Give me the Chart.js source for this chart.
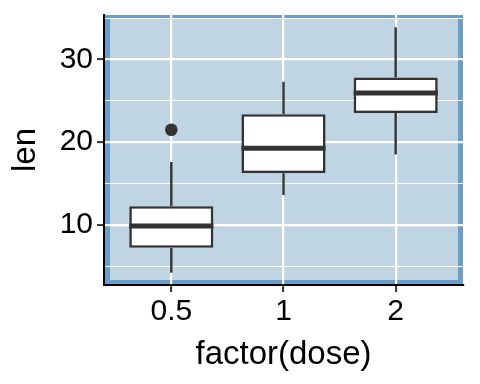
<!DOCTYPE html>
<html>
<head>
<meta charset="utf-8">
<script src="https://cdn.jsdelivr.net/npm/chart.js@4"></script>
<style>
  html, body { margin: 0; padding: 0; background: #fff; }
  #wrap { width: 480px; height: 384px; }
</style>
</head>
<body>
<div id="wrap"><canvas id="chart"></canvas></div>
<script>
// ToothGrowth: len por dosis
const doses = ['0.5', '1', '2'];
const lenMin = [4.2, 13.6, 18.5];
const lenQ1 = [7.225, 16.25, 23.525];
const lenMedian = [9.85, 19.25, 25.95];
const lenQ3 = [12.25, 23.375, 27.825];
const lenMax = [17.6, 27.3, 33.9];
const outlierDose = ['0.5'];
const outlierLen = [21.5];
const yTicks = [10, 20, 30];

const fontFam = '"Liberation Sans", Arial, sans-serif';
const boxColor = '#333333';

// fondo del panel
const panelBg = {
  id: 'panelBg',
  beforeDraw(chart) {
    const { ctx, chartArea: a } = chart;
    ctx.save();
    ctx.fillStyle = '#6C9DC6';
    ctx.fillRect(a.left, a.top, a.width, a.height);
    ctx.fillStyle = '#BFD5E3';
    ctx.fillRect(a.left + 6, a.top + 3, a.width - 11, a.height - 8);
    ctx.restore();
  }
};

// bigotes y medianas
const boxLines = {
  id: 'boxLines',
  beforeDatasetsDraw(chart) {
    const { ctx, scales: { x, y } } = chart;
    ctx.save();
    ctx.strokeStyle = boxColor;
    ctx.lineWidth = 2.4;
    doses.forEach((d, i) => {
      const px = x.getPixelForValue(i + 1);
      ctx.beginPath();
      ctx.moveTo(px, y.getPixelForValue(lenMin[i]));
      ctx.lineTo(px, y.getPixelForValue(lenQ1[i]));
      ctx.moveTo(px, y.getPixelForValue(lenQ3[i]));
      ctx.lineTo(px, y.getPixelForValue(lenMax[i]));
      ctx.stroke();
    });
    ctx.restore();
  },
  afterDatasetsDraw(chart) {
    const { ctx, scales: { y } } = chart;
    const bars = chart.getDatasetMeta(0).data;
    ctx.save();
    ctx.strokeStyle = boxColor;
    ctx.lineWidth = 5;
    bars.forEach((bar, i) => {
      const py = y.getPixelForValue(lenMedian[i]);
      ctx.beginPath();
      ctx.moveTo(bar.x - bar.width / 2, py);
      ctx.lineTo(bar.x + bar.width / 2, py);
      ctx.stroke();
    });
    ctx.restore();
  }
};

new Chart(document.getElementById('chart'), {
  type: 'bar',
  data: {
    datasets: [{
      type: 'bar',
      data: doses.map((d, i) => ({ x: i + 1, y: [lenQ1[i], lenQ3[i]] })),
      backgroundColor: '#ffffff',
      borderColor: boxColor,
      borderWidth: 2.6,
      borderSkipped: false,
      barPercentage: 0.75,
      categoryPercentage: 1,
      grouped: false
    }, {
      type: 'scatter',
      data: outlierDose.map((d, i) => ({ x: doses.indexOf(d) + 1, y: outlierLen[i] })),
      backgroundColor: boxColor,
      borderColor: boxColor,
      pointRadius: 6.3,
      pointBorderWidth: 0
    }]
  },
  options: {
    responsive: true,
    maintainAspectRatio: false,
    animation: false,
    layout: { padding: { top: 15, right: 17, left: 0, bottom: 0 } },
    plugins: { legend: { display: false }, tooltip: { enabled: false } },
    scales: {
      x: {
        type: 'linear',
        offset: false,
        min: 0.4,
        max: 3.6,
        afterFit(s) { s.height = 99; s.paddingLeft = 0; s.paddingRight = 0; },
        ticks: {
          stepSize: 1,
          includeBounds: false,
          autoSkip: false,
          maxRotation: 0,
          color: '#000',
          padding: 2,
          font: { family: fontFam, size: 30 },
          callback: v => doses[v - 1] || ''
        },
        grid: { offset: false, color: '#ffffff', lineWidth: 2.2, tickColor: boxColor, tickLength: 7, tickWidth: 2 },
        border: { color: '#000', width: 2 },
        title: { display: true, text: 'factor(dose)', color: '#000', font: { family: fontFam, size: 33 }, padding: { top: 0, bottom: 9 } }
      },
      y: {
        type: 'linear',
        min: 2.715,
        max: 35.385,
        afterFit(s) { s.width = 104; s.paddingTop = 0; s.paddingBottom = 0; },
        ticks: {
          stepSize: 5,
          includeBounds: false,
          autoSkip: false,
          color: '#000',
          padding: 4,
          font: { family: fontFam, size: 30 },
          callback: v => yTicks.includes(v) ? String(v) : ''
        },
        grid: {
          color: '#ffffff',
          lineWidth: c => yTicks.includes(c.tick.value) ? 2.2 : 1.1,
          tickColor: c => yTicks.includes(c.tick.value) ? boxColor : 'rgba(0,0,0,0)',
          tickLength: 7,
          tickWidth: 2
        },
        border: { color: '#000', width: 2 },
        title: { display: true, text: 'len', color: '#000', font: { family: fontFam, size: 33 }, padding: { top: 6, bottom: 0 } }
      }
    }
  },
  plugins: [panelBg, boxLines]
});
</script>
</body>
</html>
